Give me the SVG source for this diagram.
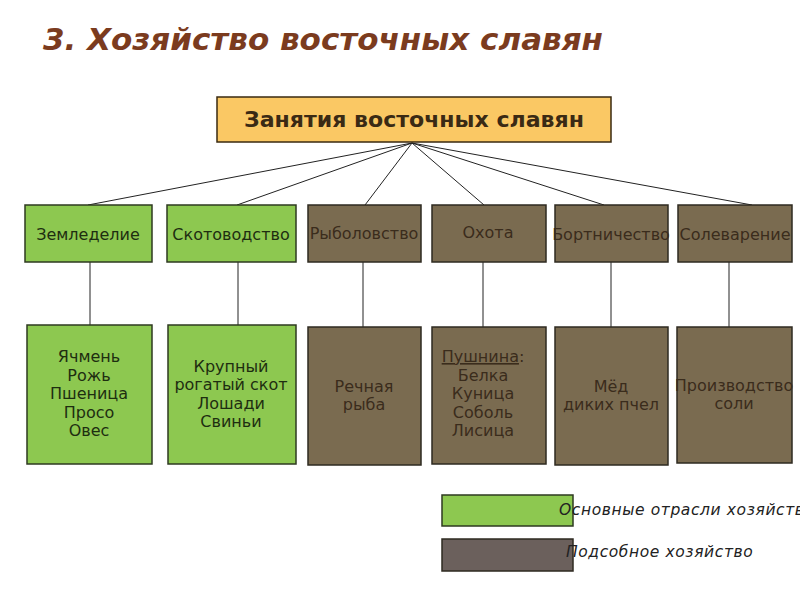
<svg xmlns="http://www.w3.org/2000/svg" width="800" height="600" viewBox="0 0 800 600">
<style>
.title{font-family:"DejaVu Sans",Verdana,sans-serif;font-weight:bold;font-style:italic;font-size:31px;fill:#7b3b1e}
.main{fill:#fac864;stroke:#3a2a10;stroke-width:1.5}
.mt{font-family:"DejaVu Sans",Verdana,sans-serif;font-weight:bold;font-size:21px;fill:#3a2a14;text-anchor:middle}
.g{fill:#8dc850;stroke:#2e3a20;stroke-width:1.5}
.b{fill:#7a6b50;stroke:#2e2a20;stroke-width:1.5}
.lg{fill:#6b605c;stroke:#2e2a20;stroke-width:1.5}
.tg{font-family:"DejaVu Sans",Verdana,sans-serif;font-size:16px;fill:#1e2e10;text-anchor:middle}
.tb{font-family:"DejaVu Sans",Verdana,sans-serif;font-size:16px;fill:#3a2c1c;text-anchor:middle}
.leg{font-family:"DejaVu Sans",Verdana,sans-serif;font-style:italic;font-size:15.5px;fill:#222;letter-spacing:0.6px}
.c{stroke:#222;stroke-width:1;fill:none}
</style>
<text class="title" x="43" y="50" textLength="560" lengthAdjust="spacingAndGlyphs">3. Хозяйство восточных славян</text>
<g id="connectors">
<line class="c" x1="412" y1="143" x2="88" y2="205"/>
<line class="c" x1="412" y1="143" x2="237" y2="205"/>
<line class="c" x1="412" y1="143" x2="365" y2="205"/>
<line class="c" x1="412" y1="143" x2="484" y2="205"/>
<line class="c" x1="412" y1="143" x2="604" y2="205"/>
<line class="c" x1="412" y1="143" x2="752" y2="205"/>
<line class="c" x1="90" y1="262" x2="90" y2="325"/>
<line class="c" x1="238" y1="262" x2="238" y2="325"/>
<line class="c" x1="363" y1="262" x2="363" y2="327"/>
<line class="c" x1="483" y1="262" x2="483" y2="327"/>
<line class="c" x1="611" y1="262" x2="611" y2="327"/>
<line class="c" x1="729" y1="262" x2="729" y2="327"/>
</g>
<g id="main">
<rect class="main" x="217" y="97" width="394" height="45"/>
<text class="mt" x="414" y="127" textLength="340" lengthAdjust="spacingAndGlyphs">Занятия восточных славян</text>
</g>
<g id="zemledelie">
<rect class="g" x="25" y="205" width="127" height="57"/>
<text class="tg" x="88" y="240">Земледелие</text>
</g>
<g id="skotovodstvo">
<rect class="g" x="167" y="205" width="129" height="57"/>
<text class="tg" x="231" y="240">Скотоводство</text>
</g>
<g id="rybolovstvo">
<rect class="b" x="308" y="205" width="113" height="57"/>
<text class="tb" x="364" y="239">Рыболовство</text>
</g>
<g id="okhota">
<rect class="b" x="432" y="205" width="114" height="57"/>
<text class="tb" x="488" y="238">Охота</text>
</g>
<g id="bortnichestvo">
<rect class="b" x="555" y="205" width="113" height="57"/>
<text class="tb" x="611" y="240">Бортничество</text>
</g>
<g id="solevarenie">
<rect class="b" x="678" y="205" width="114" height="57"/>
<text class="tb" x="735" y="240">Солеварение</text>
</g>
<g id="zemledelie-items">
<rect class="g" x="27" y="325" width="125" height="139"/>
<text class="tg" x="89" y="362">Ячмень</text>
<text class="tg" x="89" y="381">Рожь</text>
<text class="tg" x="89" y="399">Пшеница</text>
<text class="tg" x="89" y="418">Просо</text>
<text class="tg" x="89" y="436">Овес</text>
</g>
<g id="skotovodstvo-items">
<rect class="g" x="168" y="325" width="128" height="139"/>
<text class="tg" x="231" y="372">Крупный</text>
<text class="tg" x="231" y="390">рогатый скот</text>
<text class="tg" x="231" y="409">Лошади</text>
<text class="tg" x="231" y="427">Свиньи</text>
</g>
<g id="rybolovstvo-items">
<rect class="b" x="308" y="327" width="113" height="138"/>
<text class="tb" x="364" y="392">Речная</text>
<text class="tb" x="364" y="410">рыба</text>
</g>
<g id="okhota-items">
<rect class="b" x="432" y="327" width="114" height="137"/>
<text class="tb" x="483" y="362"><tspan text-decoration="underline">Пушнина</tspan>:</text>
<text class="tb" x="483" y="381">Белка</text>
<text class="tb" x="483" y="399">Куница</text>
<text class="tb" x="483" y="418">Соболь</text>
<text class="tb" x="483" y="436">Лисица</text>
</g>
<g id="bortnichestvo-items">
<rect class="b" x="555" y="327" width="113" height="138"/>
<text class="tb" x="611" y="392">Мёд</text>
<text class="tb" x="611" y="410">диких пчел</text>
</g>
<g id="solevarenie-items">
<rect class="b" x="677" y="327" width="115" height="136"/>
<text class="tb" x="734" y="391">Производство</text>
<text class="tb" x="734" y="409">соли</text>
</g>
<g id="legend-main">
<rect class="g" x="442" y="495" width="131" height="31"/>
<text class="leg" x="559" y="515">Основные отрасли хозяйства</text>
</g>
<g id="legend-aux">
<rect class="lg" x="442" y="539" width="131" height="32"/>
<text class="leg" x="566" y="557">Подсобное хозяйство</text>
</g>
</svg>
